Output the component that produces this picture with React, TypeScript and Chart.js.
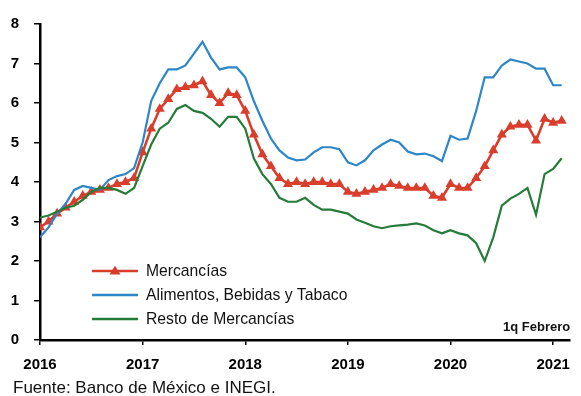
import { useEffect, useRef } from 'react';
import { Chart, registerables } from 'chart.js';

Chart.register(...registerables);

const FONT = '"Liberation Sans", Arial, sans-serif';

// Monthly observations, Jan 2016 .. Feb 2021 (1q Febrero)
const startYear = 2016;
const yearLabels = ['2016', '2017', '2018', '2019', '2020', '2021'];

const mercancias = [
  2.85, 3.0, 3.2, 3.35, 3.5, 3.65, 3.75, 3.8, 3.85, 3.95, 4.0, 4.1,
  4.75, 5.35, 5.85, 6.1, 6.35, 6.4, 6.45, 6.55, 6.2, 6.0, 6.25, 6.2,
  5.8, 5.2, 4.7, 4.4, 4.1, 3.95, 4.0, 3.95, 4.0, 4.0, 3.95, 3.95,
  3.75, 3.7, 3.75, 3.8, 3.85, 3.95, 3.9, 3.85, 3.85, 3.85, 3.65, 3.6,
  3.95, 3.85, 3.85, 4.1, 4.4, 4.8, 5.2, 5.4, 5.45, 5.45, 5.05, 5.6,
  5.5, 5.55,
];

const alimentos = [
  2.6, 2.85, 3.2, 3.45, 3.8, 3.9, 3.85, 3.8, 4.05, 4.15, 4.2, 4.35,
  5.0, 6.05, 6.5, 6.85, 6.85, 6.95, 7.25, 7.55, 7.15, 6.85, 6.9, 6.9,
  6.65, 6.05, 5.55, 5.1, 4.8, 4.62, 4.55, 4.57, 4.75, 4.88, 4.88, 4.83,
  4.5, 4.42, 4.55, 4.8, 4.95, 5.07, 5.0, 4.77, 4.7, 4.72, 4.65, 4.53,
  5.17, 5.07, 5.1, 5.8, 6.65, 6.65, 6.95, 7.1, 7.05, 7.0, 6.87, 6.87,
  6.45, 6.45,
];

const resto = [
  3.1, 3.15, 3.25, 3.35, 3.4, 3.55, 3.75, 3.85, 3.85, 3.8, 3.7, 3.85,
  4.4, 4.95, 5.35, 5.5, 5.85, 5.95, 5.8, 5.75, 5.6, 5.4, 5.65, 5.65,
  5.35, 4.6, 4.2, 3.95, 3.6, 3.5, 3.5, 3.6, 3.42, 3.3, 3.3, 3.25,
  3.2, 3.05, 2.97, 2.88, 2.83, 2.88, 2.9, 2.92, 2.95, 2.9, 2.78, 2.7,
  2.78, 2.7, 2.65, 2.45, 2.0, 2.6, 3.4, 3.58, 3.7, 3.85, 3.17, 4.2,
  4.33, 4.6,
];

const RED = '#D93D2C';
const BLUE = '#2C86C8';
const GREEN = '#257C38';

const legendItems = [
  { label: 'Mercancías', color: RED, marker: true },
  { label: 'Alimentos, Bebidas y Tabaco', color: BLUE, marker: false },
  { label: 'Resto de Mercancías', color: GREEN, marker: false },
];

const toPoints = (arr: number[]) => arr.map((v, i) => ({ x: i, y: v }));

function drawTriangle(ctx: CanvasRenderingContext2D, cx: number, cy: number, r: number) {
  const h = r * 1.6;
  ctx.beginPath();
  ctx.moveTo(cx, cy - h * 0.6);
  ctx.lineTo(cx + r, cy + h * 0.4);
  ctx.lineTo(cx - r, cy + h * 0.4);
  ctx.closePath();
  ctx.fill();
}

const overlayPlugin = {
  id: 'overlay',
  afterDraw(chart: any) {
    const ctx: CanvasRenderingContext2D = chart.ctx;
    const area = chart.chartArea;
    ctx.save();
    // legend inside chart area
    const lx0 = area.left + 52;
    const lx1 = area.left + 98;
    legendItems.forEach((item, k) => {
      const y = area.top + 247 + k * 24;
      ctx.strokeStyle = item.color;
      ctx.lineWidth = 2.5;
      ctx.beginPath();
      ctx.moveTo(lx0, y);
      ctx.lineTo(lx1, y);
      ctx.stroke();
      if (item.marker) {
        ctx.fillStyle = item.color;
        drawTriangle(ctx, (lx0 + lx1) / 2, y, 5.5);
      }
      ctx.fillStyle = '#111';
      ctx.font = `15.7px ${FONT}`;
      ctx.textAlign = 'left';
      ctx.textBaseline = 'middle';
      ctx.fillText(item.label, lx1 + 8, y + 1);
    });
    // note
    ctx.fillStyle = '#111';
    ctx.font = `bold 13px ${FONT}`;
    ctx.textAlign = 'right';
    ctx.textBaseline = 'middle';
    ctx.fillText('1q Febrero', area.right, area.bottom - 13);
    // source
    ctx.font = `17px ${FONT}`;
    ctx.textAlign = 'left';
    ctx.fillText('Fuente: Banco de México e INEGI.', 13, 388);
    ctx.restore();
  },
};

export default function App() {
  const ref = useRef<HTMLCanvasElement>(null);

  useEffect(() => {
    if (!ref.current) return;
    const chart = new Chart(ref.current, {
      type: 'line',
      data: {
        datasets: [
          {
            label: 'Resto de Mercancías',
            data: toPoints(resto),
            borderColor: GREEN,
            backgroundColor: GREEN,
            borderWidth: 2.2,
            pointRadius: 0,
            tension: 0,
            order: 0,
          },
          {
            label: 'Alimentos, Bebidas y Tabaco',
            data: toPoints(alimentos),
            borderColor: BLUE,
            backgroundColor: BLUE,
            borderWidth: 2.2,
            pointRadius: 0,
            tension: 0,
            order: 1,
          },
          {
            label: 'Mercancías',
            data: toPoints(mercancias),
            borderColor: RED,
            backgroundColor: RED,
            borderWidth: 2.6,
            pointStyle: 'triangle',
            pointRadius: 5.8,
            pointBorderWidth: 0,
            pointBackgroundColor: RED,
            tension: 0,
            order: 2,
          },
        ],
      },
      options: {
        responsive: false,
        animation: false,
        layout: { padding: { top: 20, right: 4, left: 0, bottom: 0 } },
        plugins: {
          legend: { display: false },
          tooltip: { enabled: false },
          title: { display: false },
        },
        scales: {
          x: {
            type: 'linear',
            min: 0,
            max: 62,
            afterFit: (s: any) => {
              s.height = 56;
            },
            border: { display: true, color: '#000', width: 2.5 },
            grid: {
              drawOnChartArea: false,
              drawTicks: true,
              tickLength: 5,
              color: '#000',
              lineWidth: 1.5,
            },
            ticks: {
              stepSize: 12,
              includeBounds: false,
              autoSkip: false,
              maxRotation: 0,
              padding: 11,
              color: '#000',
              font: { family: FONT, size: 15, weight: 'bold' },
              callback: (v: any) => {
                const n = Number(v);
                if (n % 12 !== 0) return '';
                const idx = n / 12;
                return yearLabels[idx] ?? String(startYear + idx);
              },
            },
          },
          y: {
            min: 0,
            max: 8,
            afterFit: (s: any) => {
              s.width = 40;
            },
            border: { display: true, color: '#000', width: 2.5 },
            grid: {
              drawOnChartArea: false,
              drawTicks: true,
              tickLength: 6,
              color: '#000',
              lineWidth: 1.5,
            },
            ticks: {
              stepSize: 1,
              padding: 15,
              color: '#000',
              font: { family: FONT, size: 15, weight: 'bold' },
            },
          },
        },
      },
      plugins: [overlayPlugin],
    } as any);
    return () => chart.destroy();
  }, []);

  return (
    <div style={{ position: 'absolute', left: 0, top: 0, width: 581, height: 396, background: '#fff' }}>
      <canvas ref={ref} width={581} height={396} />
    </div>
  );
}
